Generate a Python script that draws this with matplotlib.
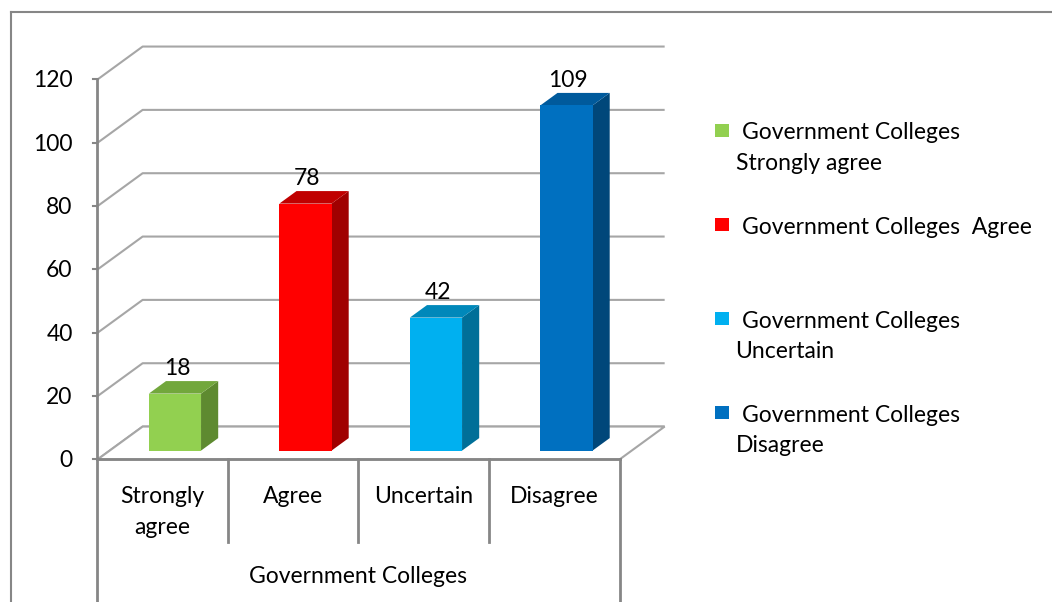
import matplotlib.pyplot as plt
from matplotlib.patches import Polygon, Rectangle
from matplotlib.lines import Line2D

# data
categories = ['Strongly\nagree', 'Agree', 'Uncertain', 'Disagree']
values = [18, 78, 42, 109]
group_label = 'Government Colleges'
legend_labels = ['Government Colleges\nStrongly agree',
                 'Government Colleges  Agree',
                 'Government Colleges\nUncertain',
                 'Government Colleges\nDisagree']
y_ticks = [0, 20, 40, 60, 80, 100, 120]

front_colors = ['#92D050', '#FF0000', '#00B0F0', '#0070C0']
side_colors = ['#5E8A30', '#A00000', '#006F98', '#00477A']
top_colors = ['#72A73C', '#C00000', '#0088BA', '#005A9C']

W, H = 1052, 602
plt.rcParams['font.family'] = ['Lato', 'DejaVu Sans']
FS = 16.5

fig = plt.figure(figsize=(W / 100, H / 100), dpi=100)
ax = fig.add_axes([0, 0, 1, 1])
ax.set_xlim(-1.247, 6.814)
ax.set_ylim(-45.0, 145.1)
ax.axis('off')

DX, DY = 0.346, 10.4          # oblique depth of the 3d box
F0, DEPTH, BW = 0.27, 0.38, 0.40  # bar depth start, bar depth, bar width
PX = 3.167                    # pixels per value unit
x_left, x_right = -0.5, len(categories) - 0.5
grid_c = '#a6a6a6'
axis_c = '#868686'

# back wall and side wall gridlines
for v in y_ticks:
    ax.plot([x_left, x_left + DX, x_right + DX], [v, v + DY, v + DY],
            color=grid_c, lw=1.5, zorder=1, solid_capstyle='butt')

# floor
ax.add_patch(Polygon([(x_left, 0), (x_right, 0), (x_right + DX, DY), (x_left + DX, DY)],
                     closed=True, facecolor='white', edgecolor=grid_c, lw=1.5, zorder=1.5))
ax.plot([x_left, x_right], [0, 0], color=axis_c, lw=2, zorder=2)

# value axis with ticks and labels
ax.plot([x_left, x_left], [0, y_ticks[-1]], color=axis_c, lw=2, zorder=2)
for v in y_ticks:
    ax.plot([x_left - 0.038, x_left], [v, v], color=axis_c, lw=1.5, zorder=2)
    ax.text(x_left - 0.19, v - 8 / PX, str(v), ha='right', va='baseline', fontsize=FS)

# category table below the floor
ax.plot([x_left, x_left], [0, -45], color=axis_c, lw=2, zorder=2)
ax.plot([x_right, x_right], [0, -45], color=axis_c, lw=2, zorder=2)
for i in range(len(categories) - 1):
    ax.plot([i + 0.5, i + 0.5], [0, -26], color=axis_c, lw=2, zorder=2)
for i, cat in enumerate(categories):
    for k, line in enumerate(cat.split('\n')):
        ax.text(i, -(503 - 459.5 + 31 * k) / PX, line, ha='center', va='baseline', fontsize=FS)
ax.text((x_left + x_right) / 2, -(583 - 459.5) / PX, group_label,
        ha='center', va='baseline', fontsize=FS)

# 3d bars
for i, v in enumerate(values):
    x0 = i - BW / 2 + F0 * DX
    x1 = i + BW / 2 + F0 * DX
    y0 = F0 * DY
    y1 = v + y0
    ddx, ddy = DEPTH * DX, DEPTH * DY
    ax.add_patch(Polygon([(x1, y0), (x1 + ddx, y0 + ddy), (x1 + ddx, y1 + ddy), (x1, y1)],
                         closed=True, facecolor=side_colors[i], edgecolor='none', zorder=3))
    ax.add_patch(Polygon([(x0, y1), (x1, y1), (x1 + ddx, y1 + ddy), (x0 + ddx, y1 + ddy)],
                         closed=True, facecolor=top_colors[i], edgecolor='none', zorder=3))
    ax.add_patch(Rectangle((x0, y0), x1 - x0, v, facecolor=front_colors[i],
                           edgecolor='none', zorder=4))
    ax.text((x0 + x1) / 2 + 0.015, y1 + ddy + 1.8, str(v), ha='center', va='baseline',
            fontsize=FS, zorder=5)

# legend drawn by hand in pixel positions
def fx(x):
    return x / W

def fy(y):
    return 1 - y / H

for i, lab in enumerate(legend_labels):
    top = 124 + 94 * i
    fig.add_artist(Rectangle((fx(715), fy(top + 13)), 14 / W, 13 / H,
                             facecolor=front_colors[i], edgecolor='none',
                             transform=fig.transFigure))
    lines = lab.split('\n')
    fig.text(fx(741.5), fy(top + 15.5), lines[0], ha='left', va='baseline', fontsize=FS)
    if len(lines) > 1:
        fig.text(fx(735.5), fy(top + 46.5), lines[1], ha='left', va='baseline', fontsize=FS)

# outer chart border
fig.add_artist(Line2D([fx(10.5), fx(10.5)], [fy(11.5), 0], color=axis_c, lw=1.5,
                      transform=fig.transFigure))
fig.add_artist(Line2D([fx(10.5), 1], [fy(11.5), fy(11.5)], color=axis_c, lw=1.5,
                      transform=fig.transFigure))

fig.savefig('out.png', dpi=100)
